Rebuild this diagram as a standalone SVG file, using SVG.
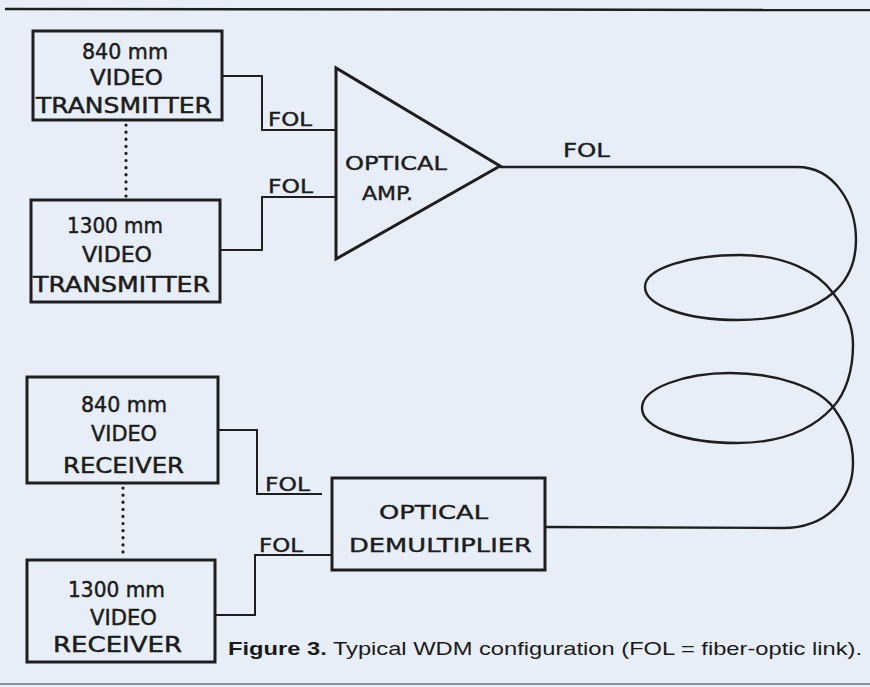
<svg xmlns="http://www.w3.org/2000/svg" width="870" height="687" viewBox="0 0 870 687">
<style>
.bg{fill:#e8eef7}
.box{fill:none;stroke:#1e1e1e;stroke-width:3}
.ln{fill:none;stroke:#1e1e1e;stroke-width:2;stroke-linejoin:miter}
.coil{fill:none;stroke:#1e1e1e;stroke-width:2.4}
.dot{fill:none;stroke:#1e1e1e;stroke-width:3.2;stroke-linecap:round;stroke-dasharray:0.1 7}
.t{font-family:"DejaVu Sans","Liberation Sans",sans-serif;fill:#1c1c1c;stroke:#1c1c1c;stroke-width:0.5;font-size:22px}
.s{font-family:"DejaVu Sans","Liberation Sans",sans-serif;fill:#1c1c1c;stroke:#1c1c1c;stroke-width:0.4;font-size:19px}
.cap{font-family:"Liberation Sans",Arial,sans-serif;fill:#1a1a1a;font-size:19px}
</style>
<rect class="bg" x="0" y="0" width="870" height="687"/>
<line x1="5" y1="9" x2="870" y2="10" stroke="#1e1e1e" stroke-width="2.5"/>
<line x1="0" y1="684" x2="870" y2="684" stroke="#555" stroke-width="2" opacity="0.6"/>

<g id="connectors">
  <path class="ln" d="M222 76 H262 V130 H336"/>
  <path class="ln" d="M220 250 H262 V197 H336"/>
  <path class="ln" d="M218 430 H257 V494 H322"/>
  <path class="ln" d="M215 615 H255 V555 H332"/>
  <path class="coil" d="M500 167 L797 167 C835 167,856 205,856 240 C856 262,848 280,833 293 C810 312,775 320,737 320 C685 320,645 305,645 287 C645 268,690 255,740 255 C785 255,818 272,833 293 C846 310,853 325,853 345 C853 370,846 393,833 407 C812 430,780 443,737 443 C685 443,642 428,642 408 C642 388,685 373,730 373 C778 373,818 388,833 407 C846 425,853 440,853 463 C853 500,825 528,783 528 L545 527"/>
  <line class="dot" x1="126" y1="125" x2="126" y2="197"/>
  <line class="dot" x1="123" y1="488" x2="123" y2="557"/>
  <text class="s" x="268" y="126" textLength="44" lengthAdjust="spacingAndGlyphs">FOL</text>
  <text class="s" x="268" y="193" textLength="45" lengthAdjust="spacingAndGlyphs">FOL</text>
  <text class="s" x="563" y="157" textLength="47" lengthAdjust="spacingAndGlyphs">FOL</text>
  <text class="s" x="265" y="491" textLength="45" lengthAdjust="spacingAndGlyphs">FOL</text>
  <text class="s" x="259" y="552" textLength="44" lengthAdjust="spacingAndGlyphs">FOL</text>
</g>

<g id="tx840">
  <rect class="box" x="33" y="31" width="189" height="89"/>
  <text class="t" x="82" y="59" textLength="86" lengthAdjust="spacingAndGlyphs">840 mm</text>
  <text class="t" x="90" y="85" textLength="73" lengthAdjust="spacingAndGlyphs">VIDEO</text>
  <text class="t" x="36" y="113" textLength="176" lengthAdjust="spacingAndGlyphs">TRANSMITTER</text>
</g>

<g id="tx1300">
  <rect class="box" x="31" y="200" width="189" height="102"/>
  <text class="t" x="67" y="233" textLength="96" lengthAdjust="spacingAndGlyphs">1300 mm</text>
  <text class="t" x="82" y="262" textLength="70" lengthAdjust="spacingAndGlyphs">VIDEO</text>
  <text class="t" x="33" y="292" textLength="177" lengthAdjust="spacingAndGlyphs">TRANSMITTER</text>
</g>

<g id="amp">
  <polygon class="box" points="336,68 336,259 500,166"/>
  <text class="s" x="345" y="170" textLength="102" lengthAdjust="spacingAndGlyphs">OPTICAL</text>
  <text class="s" x="362" y="200" textLength="51" lengthAdjust="spacingAndGlyphs">AMP.</text>
</g>

<g id="rx840">
  <rect class="box" x="27" y="377" width="191" height="106"/>
  <text class="t" x="81" y="412" textLength="86" lengthAdjust="spacingAndGlyphs">840 mm</text>
  <text class="t" x="91" y="441" textLength="66" lengthAdjust="spacingAndGlyphs">VIDEO</text>
  <text class="t" x="63" y="473" textLength="121" lengthAdjust="spacingAndGlyphs">RECEIVER</text>
</g>

<g id="rx1300">
  <rect class="box" x="27" y="560" width="188" height="102"/>
  <text class="t" x="68" y="597" textLength="97" lengthAdjust="spacingAndGlyphs">1300 mm</text>
  <text class="t" x="90" y="625" textLength="67" lengthAdjust="spacingAndGlyphs">VIDEO</text>
  <text class="t" x="53" y="652" textLength="129" lengthAdjust="spacingAndGlyphs">RECEIVER</text>
</g>

<g id="demux">
  <rect class="box" x="332" y="478" width="213" height="92"/>
  <text class="s" x="379" y="519" textLength="109" lengthAdjust="spacingAndGlyphs">OPTICAL</text>
  <text class="s" x="349" y="552" textLength="183" lengthAdjust="spacingAndGlyphs">DEMULTIPLIER</text>
</g>

<g id="caption">
  <text class="cap" x="228" y="655" textLength="634" lengthAdjust="spacingAndGlyphs"><tspan font-weight="bold">Figure 3.</tspan> Typical WDM configuration (FOL = fiber-optic link).</text>
</g>
</svg>
